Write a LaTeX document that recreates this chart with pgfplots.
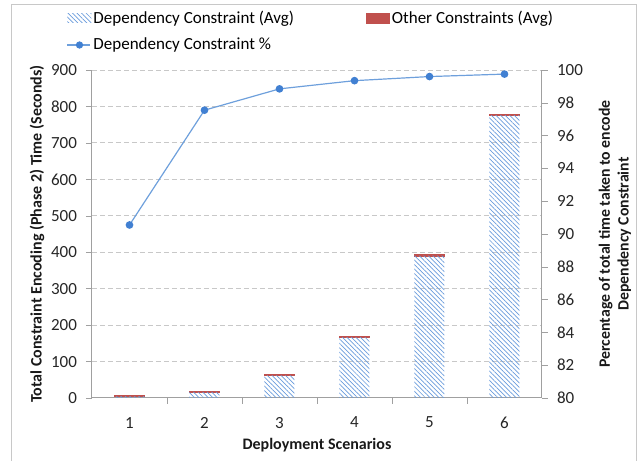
\documentclass[border=0pt]{standalone}
\usepackage{pgfplots}
\pgfplotsset{compat=1.18}
\usetikzlibrary{patterns.meta}
\usepackage{fontspec}
\setmainfont{Carlito}
\definecolor{hatchblue}{RGB}{105,155,220}
\definecolor{barred}{RGB}{192,80,77}
\definecolor{lineblue}{RGB}{110,160,220}
\definecolor{markblue}{RGB}{65,128,210}
\definecolor{axgray}{RGB}{160,160,160}
\definecolor{gridgray}{RGB}{200,200,200}
\begin{document}
\begin{tikzpicture}
\useasboundingbox (-46pt,-31.5pt) rectangle (273.5pt,199pt);
\draw[color=gridgray, line width=0.5pt] (-40pt,-45pt) rectangle (272.5pt,196.5pt);
\begin{axis}[
  scale only axis, width=225pt, height=164pt,
  ybar stacked, bar width=0.4,
  xmin=0.5, xmax=6.5, ymin=0, ymax=900,
  xtick={1,2,3,4,5,6},
  major x tick style={draw=none},
  minor xtick={1.5,2.5,3.5,4.5,5.5},
  minor x tick style={axgray},
  minor tick length=3pt,
  ytick={0,100,...,900},
  axis x line*=bottom, axis y line*=left,
  axis line style={axgray, line width=0.5pt},
  y tick style={axgray},
  tick align=outside,
  major tick length=3pt,
  ymajorgrids, grid style={gridgray, dashed, dash pattern=on 2.5pt off 1.5pt, line width=0.5pt},
  /pgf/number format/assume math mode=true,
  tick label style={font=\fontsize{8.5}{10}\selectfont, text=black!85},
  xticklabel style={yshift=-3pt},
  yticklabel style={xshift=-1pt},
  label style={font=\bfseries\fontsize{8}{9.5}\selectfont, text=black!90},
  xlabel={Deployment Scenarios},
  xlabel style={at={(axis description cs:0.5,-0.143)}, anchor=center},
  ylabel={Total Constraint Encoding (Phase 2) Time (Seconds)},
  ylabel style={at={(axis description cs:-0.122,0.5)}, anchor=center},
  legend columns=2,
  legend cell align=left,
  legend style={draw=none, fill=none, at={(axis description cs:-0.070,1.205)}, anchor=north west,
    font=\fontsize{8.5}{10}\selectfont, column sep=0pt, row sep=1.5pt,
    nodes={inner xsep=1pt},
    /tikz/every odd column/.append style={column sep=0pt},
    /tikz/every even column/.append style={column sep=35pt}},
]
\addplot+[draw=none, pattern={Lines[angle=-45, distance=1.6pt, line width=0.35pt]}, pattern color=hatchblue,
  legend image code/.code={\fill[pattern={Lines[angle=-45, distance=1.6pt, line width=0.35pt]}, pattern color=hatchblue] (0pt,-2pt) rectangle (12pt,2.5pt);}]
  coordinates {(1,5.4) (2,16.5) (3,62.3) (4,167) (5,390.4) (6,776)};
\addlegendentry{Dependency Constraint (Avg)}
\addplot+[fill=barred, draw=barred, line width=0.9pt,
  legend image code/.code={\fill[barred] (0pt,-2pt) rectangle (11pt,2.5pt);}]
  coordinates {(1,0.6) (2,0.5) (3,0.7) (4,1.0) (5,1.6) (6,2.0)};
\addlegendentry{Other Constraints (Avg)}
\addlegendimage{legend image code/.code={\draw[lineblue, line width=0.6pt] (0pt,0pt) -- (11.5pt,0pt); \fill[markblue] (6pt,0pt) circle (1.6pt);}}
\addlegendentry{Dependency Constraint \%}
\end{axis}
\begin{axis}[
  scale only axis, width=225pt, height=164pt,
  xmin=0.5, xmax=6.5, ymin=80, ymax=100,
  ytick={80,82,...,100},
  axis x line=none, axis y line*=right,
  axis line style={axgray, line width=0.5pt},
  y tick style={axgray},
  tick align=outside, major tick length=3pt,
  /pgf/number format/assume math mode=true,
  tick label style={font=\fontsize{8.5}{10}\selectfont, text=black!85},
  yticklabel style={xshift=1pt},
  label style={font=\bfseries\fontsize{7.9}{9.3}\selectfont, text=black!90},
  ylabel={Percentage of total time taken to encode\\Dependency Constraint},
  ylabel style={at={(axis description cs:1.162,0.5)}, anchor=center, align=center, rotate=0},
]
\addplot[color=lineblue, line width=0.6pt, mark=*, mark size=1.6pt, mark options={fill=markblue, draw=markblue}]
  coordinates {(1,90.55) (2,97.55) (3,98.85) (4,99.35) (5,99.6) (6,99.75)};
\end{axis}
\end{tikzpicture}
\end{document}
